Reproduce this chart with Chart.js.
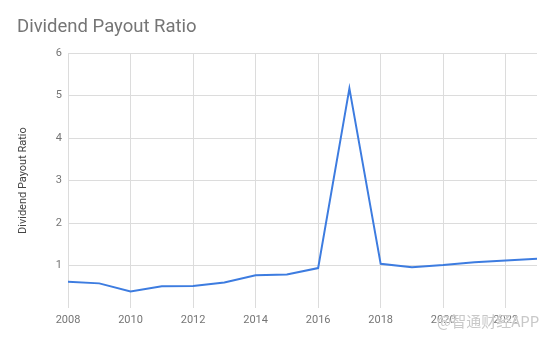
<!DOCTYPE html>
<html>
<head>
<meta charset="utf-8">
<script src="https://cdn.jsdelivr.net/npm/chart.js@4"></script>
<style>
  html, body { margin: 0; padding: 0; background: #fff; }
  #wrap { position: relative; width: 554px; height: 342px; }
  #mark { position: absolute; left: 437px; top: 310px; font: 15px "Noto Sans CJK SC", sans-serif;
          color: rgba(190,190,190,0.85); text-shadow: 0 0 1px #fff, 0 0 1px #fff; white-space: nowrap; }
</style>
</head>
<body>
<div id="wrap">
  <canvas id="myChart" width="554" height="342"></canvas>
  <div id="mark">@智通财经APP</div>
</div>
<script>
// values
const years = [2008, 2009, 2010, 2011, 2012, 2013, 2014, 2015, 2016, 2017, 2018, 2019, 2020, 2021, 2022, 2023];
const payoutRatio = [0.62, 0.58, 0.39, 0.51, 0.52, 0.60, 0.77, 0.79, 0.94, 5.17, 1.04, 0.96, 1.01, 1.08, 1.12, 1.16];
const yTicks = [0, 1, 2, 3, 4, 5, 6];

const grey = '#757575';
const gridColor = '#dcdcdc';

const points = years.map((y, i) => ({ x: y, y: payoutRatio[i] }));

const ctx = document.getElementById('myChart').getContext('2d');
const myChart = new Chart(ctx, {
  type: 'line',
  data: {
    datasets: [{
      label: 'Dividend Payout Ratio',
      data: points,
      borderColor: '#3d7ce0',
      borderWidth: 2,
      pointRadius: 0,
      tension: 0,
      fill: false
    }]
  },
  options: {
    responsive: false,
    animation: false,
    layout: { padding: { left: 17, right: 17, top: 0, bottom: 10 } },
    plugins: {
      legend: { display: false },
      tooltip: { enabled: false },
      title: {
        display: true,
        text: 'Dividend Payout Ratio',
        align: 'start',
        color: grey,
        font: { family: 'Roboto', size: 18.5, weight: 'normal' },
        padding: { top: 16, bottom: 15 }
      }
    },
    scales: {
      x: {
        type: 'linear',
        min: years[0],
        max: years[years.length - 1],
        border: { display: false },
        grid: { color: gridColor, drawTicks: false },
        ticks: {
          stepSize: 2,
          includeBounds: false,
          color: grey,
          padding: 6,
          maxRotation: 0,
          font: { family: 'Roboto', size: 11 },
          callback: v => String(v)
        },
        afterFit: s => { s.height = 24; }
      },
      y: {
        min: yTicks[0],
        max: yTicks[yTicks.length - 1],
        border: { display: false },
        grid: {
          drawTicks: false,
          color: c => c.tick.value === 0 ? 'rgba(0,0,0,0)' : gridColor
        },
        ticks: {
          stepSize: 1,
          color: grey,
          padding: 6,
          font: { family: 'Roboto', size: 11 },
          callback: v => v === 0 ? '' : String(v)
        },
        title: {
          display: true,
          text: 'Dividend Payout Ratio',
          color: '#444',
          font: { family: 'Roboto', size: 11 },
          padding: { top: 0, bottom: 0 }
        },
        afterFit: s => { s.width = 51; }
      }
    }
  }
});
</script>
</body>
</html>
